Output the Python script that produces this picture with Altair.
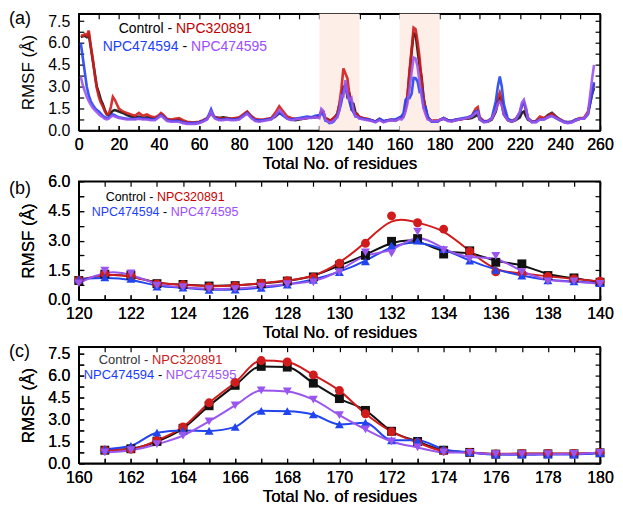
import altair as alt
import pandas as pd

SERIES = ["Control", "NPC320891", "NPC474594", "NPC474595"]
SHAPES = ["square", "circle", "triangle-up", "triangle-down"]

# ---------------- Panel (a) data, by segments ----------------
res_s1 = list(range(1, 21))
ctrl_s1 = [6.4, 6.45, 6.5, 6.4, 6.6, 5.7, 4.8, 3.9, 3.0, 2.6, 2.1, 1.8, 1.4, 1.1, 1.05, 1.2, 1.35, 1.4, 1.35, 1.3]
red_s1 = [6.5, 6.5, 6.6, 6.5, 6.85, 5.8, 4.9, 3.8, 2.9, 2.3, 1.9, 1.65, 1.3, 1.1, 1.15, 1.6, 2.3, 2.1, 1.8, 1.5]
blue_s1 = [6.0, 5.0, 4.0, 3.0, 2.4, 2.0, 1.75, 1.55, 1.4, 1.3, 1.15, 1.0, 0.9, 0.85, 0.9, 1.0, 1.1, 1.05, 0.95, 0.9]
purp_s1 = [3.7, 3.1, 2.7, 2.3, 2.0, 1.75, 1.55, 1.4, 1.25, 1.1, 1.0, 0.9, 0.8, 0.75, 0.8, 0.95, 1.0, 0.95, 0.9, 0.85]

res_s2 = [22, 24, 26, 28, 30, 32, 34, 36, 38, 40, 41, 42, 44, 46, 48, 50, 52, 54, 56, 58, 60, 62, 64, 65, 66, 67, 68]
red_s2 = [1.3, 1.2, 1.1, 1.0, 1.2, 1.0, 1.1, 0.95, 0.9, 1.05, 1.2, 1.1, 0.8, 0.75, 0.8, 0.85, 0.7, 0.6, 0.55, 0.55, 0.6, 0.7, 0.85, 1.0, 1.3, 1.0, 0.9]
ctrl_s2 = [1.2, 1.05, 0.95, 0.9, 0.95, 0.85, 0.9, 0.85, 0.8, 0.95, 1.1, 1.0, 0.75, 0.7, 0.7, 0.75, 0.6, 0.55, 0.5, 0.5, 0.55, 0.65, 0.8, 1.0, 1.3, 1.0, 0.9]
blue_s2 = [0.85, 0.8, 0.8, 0.8, 0.85, 0.8, 0.8, 0.75, 0.75, 0.95, 1.05, 0.95, 0.7, 0.65, 0.65, 0.65, 0.55, 0.5, 0.5, 0.5, 0.55, 0.65, 0.8, 1.1, 1.45, 1.1, 0.85]
purp_s2 = [0.8, 0.75, 0.75, 0.75, 0.8, 0.75, 0.75, 0.7, 0.7, 0.9, 1.0, 0.9, 0.65, 0.6, 0.6, 0.6, 0.5, 0.45, 0.45, 0.45, 0.5, 0.6, 0.75, 1.0, 1.3, 1.0, 0.8]

res_s3 = list(range(70, 119, 2))
red_s3 = [0.85, 0.8, 0.85, 0.8, 0.85, 0.9, 1.1, 1.3, 1.0, 0.8, 0.75, 0.75, 0.8, 0.85, 1.2, 1.65, 1.3, 0.95, 0.85, 0.8, 0.8, 0.8, 0.85, 0.9, 0.9]
ctrl_s3 = [0.85, 0.9, 0.85, 0.8, 0.8, 0.85, 1.0, 1.25, 0.95, 0.7, 0.65, 0.7, 0.75, 0.8, 0.95, 1.2, 1.05, 0.85, 0.75, 0.7, 0.75, 0.8, 0.85, 0.9, 0.9]
blue_s3 = [0.75, 0.75, 0.8, 0.75, 0.75, 0.8, 1.0, 1.2, 0.9, 0.7, 0.7, 0.7, 0.75, 0.8, 1.0, 1.25, 1.0, 0.8, 0.75, 0.8, 0.85, 0.9, 0.95, 0.9, 1.0]
purp_s3 = [0.7, 0.7, 0.75, 0.7, 0.7, 0.75, 0.95, 1.15, 0.85, 0.65, 0.6, 0.65, 0.7, 0.75, 1.0, 1.4, 1.1, 0.8, 0.7, 0.75, 0.8, 0.8, 0.85, 0.85, 0.9]

res_s5 = [142, 144, 146, 148, 150, 152, 154, 156, 158, 160]
red_s5 = [0.85, 0.8, 0.7, 0.6, 0.8, 0.6, 0.7, 0.75, 0.7, 0.85]
ctrl_s5 = [0.8, 0.75, 0.7, 0.6, 0.75, 0.6, 0.7, 0.7, 0.7, 0.85]
blue_s5 = [0.8, 0.75, 0.7, 0.6, 0.8, 0.65, 0.7, 0.75, 0.75, 0.9]
purp_s5 = [0.75, 0.7, 0.65, 0.55, 0.7, 0.55, 0.65, 0.7, 0.65, 0.8]

res_s7 = [182, 184, 186, 188, 190, 192, 194, 196, 198, 199, 200, 202, 204, 206, 208, 209, 210, 211, 212,
          214, 216, 218, 220, 221, 222, 223, 224, 226, 228, 230, 232, 234, 236, 238, 240, 242, 244, 246,
          248, 250, 252, 254, 256, 257]
red_s7 = [0.85, 0.7, 0.65, 0.75, 0.75, 0.8, 0.85, 1.0, 1.5, 1.6, 0.9, 0.65, 0.65, 0.8, 1.5, 2.2, 2.6, 2.1, 1.3,
          0.75, 0.65, 0.8, 1.2, 1.7, 1.9, 1.4, 0.85, 0.6, 0.65, 0.95, 0.85, 1.0, 1.15, 0.9, 0.75, 0.6, 0.55, 0.6,
          0.75, 0.85, 0.85, 1.3, 2.6, 3.2]
ctrl_s7 = [0.8, 0.7, 0.65, 0.7, 0.75, 0.8, 0.8, 0.85, 1.0, 1.1, 0.75, 0.6, 0.6, 0.75, 1.3, 1.9, 2.2, 1.8, 1.1,
           0.7, 0.6, 0.7, 0.9, 1.2, 1.3, 1.0, 0.75, 0.6, 0.6, 0.8, 0.8, 1.05, 1.2, 0.95, 0.75, 0.6, 0.55, 0.6,
           0.7, 0.8, 0.8, 1.2, 2.5, 2.9]
blue_s7 = [0.85, 0.7, 0.65, 0.75, 0.8, 0.85, 0.9, 1.0, 1.3, 1.35, 0.8, 0.6, 0.65, 0.85, 2.0, 3.0, 3.7, 3.0, 1.8,
           0.8, 0.65, 0.75, 1.2, 1.7, 1.9, 1.5, 0.85, 0.6, 0.6, 0.75, 0.75, 0.9, 1.0, 0.85, 0.7, 0.6, 0.55, 0.6,
           0.75, 0.8, 0.8, 1.1, 2.5, 3.3]
purp_s7 = [0.8, 0.65, 0.6, 0.7, 0.75, 0.8, 0.85, 0.95, 1.2, 1.25, 0.75, 0.55, 0.6, 0.8, 1.4, 1.8, 2.0, 1.7, 1.1,
           0.7, 0.6, 0.75, 1.3, 1.9, 2.1, 1.6, 0.85, 0.55, 0.55, 0.75, 0.75, 0.9, 1.0, 0.85, 0.7, 0.55, 0.5, 0.55,
           0.7, 0.8, 0.8, 1.2, 3.5, 4.5]

# ---------------- Panel (b) data: residues 120-140 ----------------
res_b = list(range(120, 141))
ctrl_b = [0.98, 1.3, 1.25, 0.82, 0.78, 0.7, 0.72, 0.82, 0.95, 1.16, 1.75, 2.25, 2.96, 3.1, 2.32, 2.48, 1.9, 1.82, 1.23, 1.11, 0.89]
red_b = [1.0, 1.31, 1.23, 0.81, 0.77, 0.67, 0.72, 0.84, 0.97, 1.14, 1.85, 2.86, 4.25, 3.9, 3.58, 2.45, 1.42, 1.35, 1.18, 1.06, 0.94]
blue_b = [1.05, 1.14, 1.06, 0.67, 0.62, 0.5, 0.52, 0.6, 0.77, 1.01, 1.4, 1.95, 2.74, 2.99, 2.57, 1.98, 1.51, 1.23, 0.98, 0.94, 0.84]
purp_b = [0.84, 1.48, 1.34, 0.72, 0.64, 0.55, 0.55, 0.67, 0.8, 0.89, 1.4, 2.4, 2.35, 3.45, 2.52, 2.07, 2.23, 1.4, 0.94, 0.94, 0.81]

# ---------------- Panel (c) data: residues 161-180 ----------------
res_c = list(range(161, 181))
ctrl_c = [0.9, 1.0, 1.5, 2.4, 3.95, 5.35, 6.65, 6.6, 5.5, 4.44, 3.63, 2.2, 1.5, 0.9, 0.75, 0.63, 0.65, 0.65, 0.65, 0.72]
red_c = [0.9, 0.97, 1.58, 2.49, 4.15, 5.55, 7.05, 6.95, 6.07, 4.99, 3.4, 2.17, 1.43, 0.85, 0.75, 0.65, 0.68, 0.68, 0.68, 0.72]
blue_c = [0.97, 1.2, 2.1, 2.25, 2.22, 2.5, 3.6, 3.58, 3.35, 2.67, 2.79, 1.58, 1.58, 0.97, 0.75, 0.6, 0.59, 0.6, 0.6, 0.7]
purp_c = [0.75, 0.9, 1.31, 1.9, 2.88, 3.97, 5.0, 4.93, 4.37, 3.31, 2.33, 1.5, 1.09, 0.75, 0.72, 0.63, 0.63, 0.63, 0.65, 0.72]

shade_start = [120, 160]
shade_end = [140, 180]

# ---------------- build tables ----------------
res_a = res_s1 + res_s2 + res_s3 + res_b + res_s5 + res_c + res_s7
ctrl_a = ctrl_s1 + ctrl_s2 + ctrl_s3 + ctrl_b + ctrl_s5 + ctrl_c + ctrl_s7
red_a = red_s1 + red_s2 + red_s3 + red_b + red_s5 + red_c + red_s7
blue_a = blue_s1 + blue_s2 + blue_s3 + blue_b + blue_s5 + blue_c + blue_s7
purp_a = purp_s1 + purp_s2 + purp_s3 + purp_b + purp_s5 + purp_c + purp_s7


def long(res, vals):
    rows = []
    for k, (name, v) in enumerate(zip(SERIES, vals)):
        for r, y in zip(res, v):
            rows.append({"res": r, "rmsf": y, "series": name, "k": k})
    return pd.DataFrame(rows)


df_a = long(res_a, [ctrl_a, red_a, blue_a, purp_a])
df_b = long(res_b, [ctrl_b, red_b, blue_b, purp_b])
df_c = long(res_c, [ctrl_c, red_c, blue_c, purp_c])

FONT = "Liberation Sans"
W = 523
LX = -70
TICK_IN = {"expr": "-5"}


def x_axes(values, step, title):
    lab = f"datum.value % {step} === 0 ? format(datum.value, 'd') : ''"
    main = alt.Axis(values=values, labelExpr=lab, title=title, tickSize=TICK_IN, labelFlush=False,
                    labelPadding=11, titlePadding=3, orient="bottom")
    sec = alt.Axis(values=values, labels=False, title=None, tickSize=TICK_IN, orient="top",
                   labelPadding=0, titlePadding=0)
    return main, sec


def y_axes(values):
    lab = "round(datum.value / 0.75) % 2 === 0 ? format(datum.value, '.1f') : ''"
    main = alt.Axis(values=values, labelExpr=lab, title="RMSF (Å)", tickSize=TICK_IN, labelFlush=False,
                    labelPadding=14, titlePadding=10, orient="left")
    sec = alt.Axis(values=values, labels=False, title=None, tickSize=TICK_IN, orient="right",
                   labelPadding=0, titlePadding=0)
    return main, sec


def texts(items):
    layers = []
    for (t, x, y, color, size, align) in items:
        layers.append(
            alt.Chart(pd.DataFrame({"t": [t]})).mark_text(
                font=FONT, fontSize=size, color=color, align=align, baseline="middle"
            ).encode(x=alt.value(x), y=alt.value(y), text="t:N")
        )
    return layers


def legend_items(x1, y1, x2, y2, f, cols):
    return [
        ("Control -", x1, y1, cols[0], f, "left"),
        ("NPC320891", x1 + 4.112 * f, y1, cols[1], f, "left"),
        ("NPC474594", x2, y2, cols[2], f, "left"),
        ("-", x2 + 5.725 * f, y2, "#000000", f, "left"),
        ("NPC474595", x2 + 6.336 * f, y2, cols[3], f, "left"),
    ]


yvals = [i * 0.75 for i in range(0, 11)]
yvals_b = [i * 0.75 for i in range(0, 9)]

# ---------------- Panel (a) ----------------
cols_a = ["#111111", "#d01c1c", "#2244ee", "#9955ee"]
xs_a = alt.Scale(domain=[0, 260], nice=False)
ys_a = alt.Scale(domain=[0, 8], nice=False)
xa_main, xa_sec = x_axes(list(range(0, 261, 10)), 20, "Total No. of residues")
ya_main, ya_sec = y_axes(yvals)

shade = alt.Chart(pd.DataFrame({"s": shade_start, "e": shade_end})).mark_rect(
    color="#fdefe7"
).encode(x=alt.X("s:Q", scale=xs_a, axis=xa_main), x2="e:Q")

lines_a = alt.Chart(df_a).mark_line(strokeWidth=2.6, opacity=0.9).encode(
    x=alt.X("res:Q", scale=xs_a, axis=xa_main),
    y=alt.Y("rmsf:Q", scale=ys_a, axis=ya_main),
    color=alt.Color("series:N", scale=alt.Scale(domain=SERIES, range=cols_a), legend=None),
    order="k:Q",
)
sec_a = alt.Chart(df_a).mark_point(opacity=0).encode(
    x=alt.X("res:Q", scale=xs_a, axis=xa_sec),
    y=alt.Y("rmsf:Q", scale=ys_a, axis=ya_sec),
)
txt_a = texts(legend_items(40, 15.5, 24, 33.5, 14, ["#000000", "#c00000", "#1f3fff", "#9b4dff"])
              + [("(a)", LX, 5, "#000000", 18, "left")])
panel_a = alt.layer(shade, lines_a, sec_a, *txt_a).resolve_axis(x="independent", y="independent").properties(
    width=W, height=117
)

# ---------------- Panel (b) ----------------
cols_b = ["#000000", "#cc0000", "#1a4cff", "#a24cff"]
xs_b = alt.Scale(domain=[120, 140], nice=False)
ys_b = alt.Scale(domain=[0, 6], nice=False)
xb_main, xb_sec = x_axes(list(range(120, 141)), 2, "Total No. of residues")
yb_main, yb_sec = y_axes(yvals_b)
enc_b = dict(
    x=alt.X("res:Q", scale=xs_b, axis=xb_main),
    y=alt.Y("rmsf:Q", scale=ys_b, axis=yb_main),
    color=alt.Color("series:N", scale=alt.Scale(domain=SERIES, range=cols_b), legend=None),
)
lines_b = alt.Chart(df_b).mark_line(strokeWidth=2, interpolate="basis").encode(**enc_b, order="k:Q")
pts_b = alt.Chart(df_b).mark_point(filled=True, size=80, opacity=1).encode(
    **enc_b, shape=alt.Shape("series:N", scale=alt.Scale(domain=SERIES, range=SHAPES), legend=None)
)
sec_b = alt.Chart(df_b).mark_point(opacity=0).encode(
    x=alt.X("res:Q", scale=xs_b, axis=xb_sec),
    y=alt.Y("rmsf:Q", scale=ys_b, axis=yb_sec),
)
txt_b = texts(legend_items(27, 16, 13, 31, 12.5, ["#000000", "#cc0000", "#1f3fff", "#9b4dff"])
              + [("(b)", LX, 8, "#000000", 18, "left")])
panel_b = alt.layer(lines_b, pts_b, sec_b, *txt_b).resolve_axis(x="independent", y="independent").properties(
    width=W, height=119
)

# ---------------- Panel (c) ----------------
cols_c = ["#4d4d4d", "#ee3333", "#0000ee", "#9944ee"]
xs_c = alt.Scale(domain=[160, 180], nice=False)
ys_c = alt.Scale(domain=[0, 8], nice=False)
xc_main, xc_sec = x_axes(list(range(160, 181)), 2, "Total No. of residues")
yc_main, yc_sec = y_axes(yvals)
enc_c = dict(
    x=alt.X("res:Q", scale=xs_c, axis=xc_main),
    y=alt.Y("rmsf:Q", scale=ys_c, axis=yc_main),
    color=alt.Color("series:N", scale=alt.Scale(domain=SERIES, range=cols_c), legend=None),
)
lines_c = alt.Chart(df_c).mark_line(strokeWidth=2, interpolate="monotone").encode(**enc_c, order="k:Q")
pts_c = alt.Chart(df_c).mark_point(filled=True, size=80, opacity=1).encode(
    **enc_c, shape=alt.Shape("series:N", scale=alt.Scale(domain=SERIES, range=SHAPES), legend=None)
)
sec_c = alt.Chart(df_c).mark_point(opacity=0).encode(
    x=alt.X("res:Q", scale=xs_c, axis=xc_sec),
    y=alt.Y("rmsf:Q", scale=ys_c, axis=yc_sec),
)
txt_c = texts(legend_items(20, 13, 5, 28, 13, ["#333333", "#cc2020", "#1a3cff", "#9c55ee"])
              + [("(c)", LX, 5, "#000000", 18, "left")])
panel_c = alt.layer(lines_c, pts_c, sec_c, *txt_c).resolve_axis(x="independent", y="independent").properties(
    width=W, height=117
)

chart = alt.vconcat(panel_a, panel_b, panel_c, spacing=0).properties(
    padding={"left": 0, "top": 0, "right": 0, "bottom": 0}
).configure_view(stroke="#000000", strokeWidth=1.5).configure_axis(
    grid=False, domainColor="#000000", domainWidth=1.5, tickColor="#000000", tickWidth=1.2,
    labelFont=FONT, labelFontSize=16, labelColor="#000000",
    titleFont=FONT, titleFontSize=17, titleFontWeight="normal", titleColor="#000000",
)

chart.save("out.html", embed_options={"renderer": "svg", "actions": False})
